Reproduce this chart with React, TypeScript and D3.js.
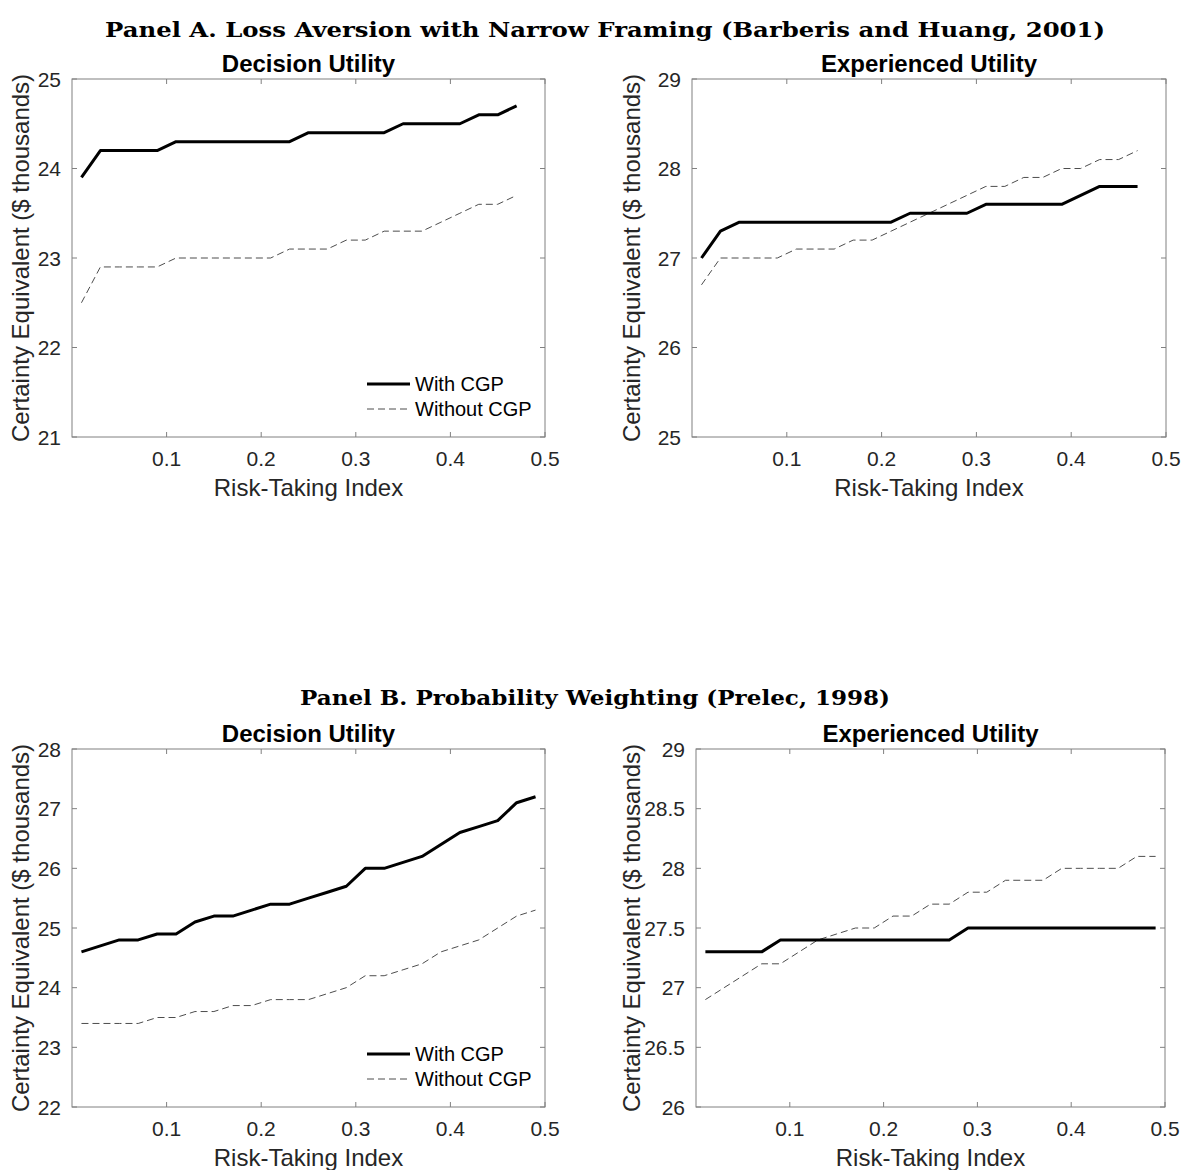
import React from 'react';
import * as d3 from 'd3';

// ---------- data ----------
const riskIndexA = [0.01, 0.03, 0.05, 0.07, 0.09, 0.11, 0.13, 0.15, 0.17, 0.19, 0.21, 0.23, 0.25, 0.27, 0.29, 0.31, 0.33, 0.35, 0.37, 0.39, 0.41, 0.43, 0.45, 0.47];
const riskIndexB = [0.01, 0.03, 0.05, 0.07, 0.09, 0.11, 0.13, 0.15, 0.17, 0.19, 0.21, 0.23, 0.25, 0.27, 0.29, 0.31, 0.33, 0.35, 0.37, 0.39, 0.41, 0.43, 0.45, 0.47, 0.49];

const aDecisionWith = [23.9, 24.2, 24.2, 24.2, 24.2, 24.3, 24.3, 24.3, 24.3, 24.3, 24.3, 24.3, 24.4, 24.4, 24.4, 24.4, 24.4, 24.5, 24.5, 24.5, 24.5, 24.6, 24.6, 24.7];
const aDecisionWithout = [22.5, 22.9, 22.9, 22.9, 22.9, 23.0, 23.0, 23.0, 23.0, 23.0, 23.0, 23.1, 23.1, 23.1, 23.2, 23.2, 23.3, 23.3, 23.3, 23.4, 23.5, 23.6, 23.6, 23.7];
const aExperiencedWith = [27.0, 27.3, 27.4, 27.4, 27.4, 27.4, 27.4, 27.4, 27.4, 27.4, 27.4, 27.5, 27.5, 27.5, 27.5, 27.6, 27.6, 27.6, 27.6, 27.6, 27.7, 27.8, 27.8, 27.8];
const aExperiencedWithout = [26.7, 27.0, 27.0, 27.0, 27.0, 27.1, 27.1, 27.1, 27.2, 27.2, 27.3, 27.4, 27.5, 27.6, 27.7, 27.8, 27.8, 27.9, 27.9, 28.0, 28.0, 28.1, 28.1, 28.2];

const bDecisionWith = [24.6, 24.7, 24.8, 24.8, 24.9, 24.9, 25.1, 25.2, 25.2, 25.3, 25.4, 25.4, 25.5, 25.6, 25.7, 26.0, 26.0, 26.1, 26.2, 26.4, 26.6, 26.7, 26.8, 27.1, 27.2];
const bDecisionWithout = [23.4, 23.4, 23.4, 23.4, 23.5, 23.5, 23.6, 23.6, 23.7, 23.7, 23.8, 23.8, 23.8, 23.9, 24.0, 24.2, 24.2, 24.3, 24.4, 24.6, 24.7, 24.8, 25.0, 25.2, 25.3];
const bExperiencedWith = [27.3, 27.3, 27.3, 27.3, 27.4, 27.4, 27.4, 27.4, 27.4, 27.4, 27.4, 27.4, 27.4, 27.4, 27.5, 27.5, 27.5, 27.5, 27.5, 27.5, 27.5, 27.5, 27.5, 27.5, 27.5];
const bExperiencedWithout = [26.9, 27.0, 27.1, 27.2, 27.2, 27.3, 27.4, 27.45, 27.5, 27.5, 27.6, 27.6, 27.7, 27.7, 27.8, 27.8, 27.9, 27.9, 27.9, 28.0, 28.0, 28.0, 28.0, 28.1, 28.1];

const xTicks = [0.1, 0.2, 0.3, 0.4, 0.5];
const xDomain = [0, 0.5];
const yTicksADecision = [21, 22, 23, 24, 25];
const yTicksAExperienced = [25, 26, 27, 28, 29];
const yTicksBDecision = [22, 23, 24, 25, 26, 27, 28];
const yTicksBExperienced = [26, 26.5, 27, 27.5, 28, 28.5, 29];

const seriesNames = ['With CGP', 'Without CGP'];
const subplotTitles = ['Decision Utility', 'Experienced Utility'];
const panelHeadings = [
  'Panel A. Loss Aversion with Narrow Framing (Barberis and Huang, 2001)',
  'Panel B. Probability Weighting (Prelec, 1998)',
];
const xAxisLabel = 'Risk-Taking Index';
const yAxisLabel = 'Certainty Equivalent ($ thousands)';

// ---------- styles ----------
const SANS = "'Liberation Sans', Arial, Helvetica, sans-serif";
const SERIF = "'DejaVu Serif', 'Liberation Serif', serif";
const AXIS_COLOR = '#808080';
const TEXT_COLOR = '#262626';

type Box = { left: number; right: number; top: number; bottom: number };

function Subplot(props: {
  box: Box;
  xs: number[];
  withVals: number[];
  withoutVals: number[];
  yTicks: number[];
  title: string;
  showLegend: boolean;
  yLabelX: number;
}) {
  const { box, xs, withVals, withoutVals, yTicks, title, showLegend, yLabelX } = props;
  const x = d3.scaleLinear().domain(xDomain).range([box.left, box.right]);
  const y = d3.scaleLinear().domain([yTicks[0], yTicks[yTicks.length - 1]]).range([box.bottom, box.top]);
  const line = d3
    .line<number>()
    .x((_, i) => x(xs[i]))
    .y((d) => y(d));
  const tl = 5;
  const cx = (box.left + box.right) / 2;
  const cy = (box.top + box.bottom) / 2;

  return (
    <g>
      <rect
        x={box.left}
        y={box.top}
        width={box.right - box.left}
        height={box.bottom - box.top}
        fill="#fff"
        stroke={AXIS_COLOR}
        strokeWidth={1}
      />
      {xTicks.map((t) => (
        <g key={'xt' + t}>
          <line x1={x(t)} x2={x(t)} y1={box.bottom} y2={box.bottom - tl} stroke={AXIS_COLOR} />
          <line x1={x(t)} x2={x(t)} y1={box.top} y2={box.top + tl} stroke={AXIS_COLOR} />
          <text
            x={x(t)}
            y={box.bottom + 29}
            textAnchor="middle"
            fontFamily={SANS}
            fontSize={21}
            fill={TEXT_COLOR}
          >
            {String(t)}
          </text>
        </g>
      ))}
      {yTicks.map((t) => (
        <g key={'yt' + t}>
          <line x1={box.left} x2={box.left + tl} y1={y(t)} y2={y(t)} stroke={AXIS_COLOR} />
          <line x1={box.right} x2={box.right - tl} y1={y(t)} y2={y(t)} stroke={AXIS_COLOR} />
          <text
            x={box.left - 11}
            y={y(t)}
            dy="0.36em"
            textAnchor="end"
            fontFamily={SANS}
            fontSize={21}
            fill={TEXT_COLOR}
          >
            {String(t)}
          </text>
        </g>
      ))}
      <path d={line(withoutVals) || ''} fill="none" stroke="#4d4d4d" strokeWidth={1} strokeDasharray="7 4" />
      <path d={line(withVals) || ''} fill="none" stroke="#000" strokeWidth={3} strokeLinejoin="round" />
      <text
        x={cx}
        y={box.top - 7}
        textAnchor="middle"
        fontFamily={SANS}
        fontWeight="bold"
        fontSize={24}
        fill="#000"
      >
        {title}
      </text>
      <text
        x={cx}
        y={box.bottom + 59}
        textAnchor="middle"
        fontFamily={SANS}
        fontSize={24}
        fill={TEXT_COLOR}
      >
        {xAxisLabel}
      </text>
      <text
        transform={`translate(${yLabelX},${cy}) rotate(-90)`}
        textAnchor="middle"
        fontFamily={SANS}
        fontSize={24}
        fill={TEXT_COLOR}
      >
        {yAxisLabel}
      </text>
      {showLegend && (
        <g>
          <line
            x1={box.right - 178}
            x2={box.right - 135}
            y1={box.bottom - 53}
            y2={box.bottom - 53}
            stroke="#000"
            strokeWidth={3}
          />
          <text x={box.right - 130} y={box.bottom - 46} fontFamily={SANS} fontSize={20} fill="#000">
            {seriesNames[0]}
          </text>
          <line
            x1={box.right - 178}
            x2={box.right - 135}
            y1={box.bottom - 28}
            y2={box.bottom - 28}
            stroke="#4d4d4d"
            strokeWidth={1}
            strokeDasharray="7 4"
          />
          <text x={box.right - 130} y={box.bottom - 21} fontFamily={SANS} fontSize={20} fill="#000">
            {seriesNames[1]}
          </text>
        </g>
      )}
    </g>
  );
}

export default function App() {
  return (
    <svg
      width={1182}
      height={1170}
      viewBox="0 0 1182 1170"
      style={{ position: 'absolute', left: 0, top: 0, background: '#fff' }}
    >
      <rect x={0} y={0} width={1182} height={1170} fill="#fff" />
      <text
        x={105}
        y={37}
        fontFamily={SERIF}
        fontWeight="bold"
        fontSize={21}
        textLength={1000}
        lengthAdjust="spacingAndGlyphs"
        fill="#000"
      >
        {panelHeadings[0]}
      </text>
      <text
        x={300}
        y={705}
        fontFamily={SERIF}
        fontWeight="bold"
        fontSize={21}
        textLength={590}
        lengthAdjust="spacingAndGlyphs"
        fill="#000"
      >
        {panelHeadings[1]}
      </text>

      <Subplot
        box={{ left: 72, right: 545, top: 79, bottom: 437 }}
        xs={riskIndexA}
        withVals={aDecisionWith}
        withoutVals={aDecisionWithout}
        yTicks={yTicksADecision}
        title={subplotTitles[0]}
        showLegend={true}
        yLabelX={29}
      />
      <Subplot
        box={{ left: 692, right: 1166, top: 79, bottom: 437 }}
        xs={riskIndexA}
        withVals={aExperiencedWith}
        withoutVals={aExperiencedWithout}
        yTicks={yTicksAExperienced}
        title={subplotTitles[1]}
        showLegend={false}
        yLabelX={640}
      />
      <Subplot
        box={{ left: 72, right: 545, top: 749, bottom: 1107 }}
        xs={riskIndexB}
        withVals={bDecisionWith}
        withoutVals={bDecisionWithout}
        yTicks={yTicksBDecision}
        title={subplotTitles[0]}
        showLegend={true}
        yLabelX={29}
      />
      <Subplot
        box={{ left: 696, right: 1165, top: 749, bottom: 1107 }}
        xs={riskIndexB}
        withVals={bExperiencedWith}
        withoutVals={bExperiencedWithout}
        yTicks={yTicksBExperienced}
        title={subplotTitles[1]}
        showLegend={false}
        yLabelX={640}
      />
    </svg>
  );
}
